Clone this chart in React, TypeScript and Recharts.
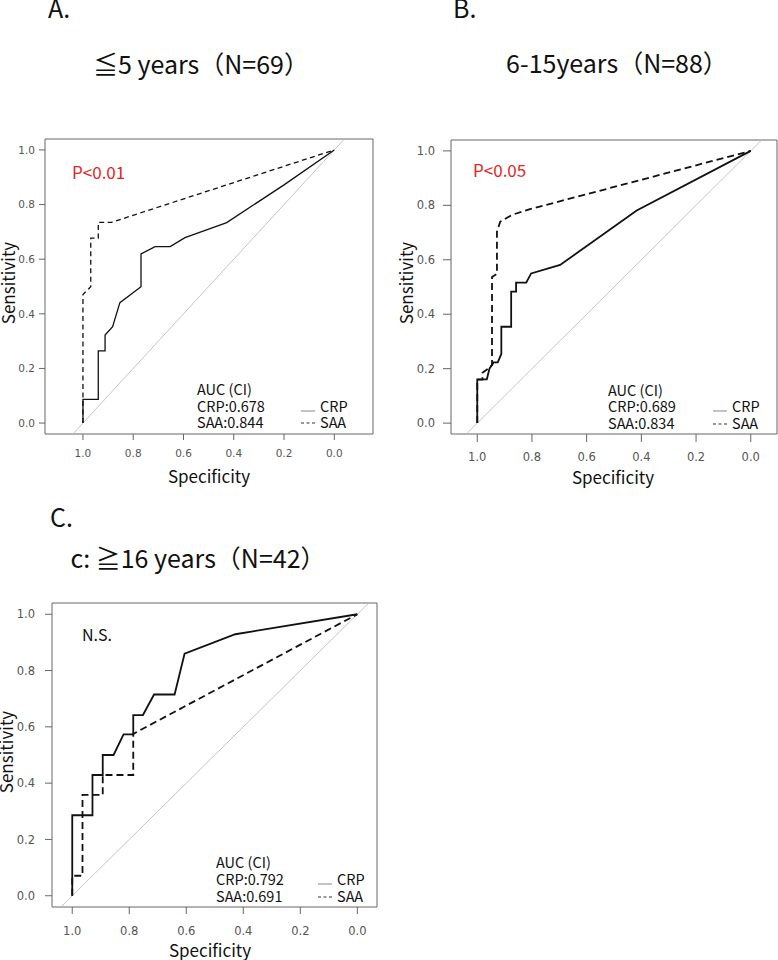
import React from 'react';
import { LineChart, Line, XAxis, YAxis, ReferenceLine, ReferenceArea } from 'recharts';

// ROC points as [specificity, sensitivity]
const crpA: [number, number][] = [
  [1, 0], [1, 0.087], [0.939, 0.087], [0.939, 0.264], [0.912, 0.264], [0.912, 0.322],
  [0.882, 0.353], [0.853, 0.441], [0.769, 0.499], [0.769, 0.619], [0.713, 0.646],
  [0.653, 0.646], [0.594, 0.679], [0.428, 0.734], [0.2, 0.872], [0, 1],
];
const saaA: [number, number][] = [
  [1, 0], [1, 0.471], [0.969, 0.499], [0.969, 0.677], [0.939, 0.677], [0.939, 0.735],
  [0.886, 0.735], [0, 1],
];
const crpB: [number, number][] = [
  [1, 0], [1, 0.161], [0.965, 0.161], [0.955, 0.201], [0.94, 0.223], [0.925, 0.223],
  [0.912, 0.254], [0.912, 0.354], [0.876, 0.354], [0.876, 0.483], [0.858, 0.483],
  [0.858, 0.516], [0.821, 0.516], [0.803, 0.55], [0.697, 0.581], [0.417, 0.781], [0, 1],
];
const saaB: [number, number][] = [
  [1, 0], [1, 0.16], [0.981, 0.16], [0.981, 0.185], [0.96, 0.2], [0.946, 0.213],
  [0.946, 0.537], [0.928, 0.548], [0.928, 0.703], [0.916, 0.74], [0.873, 0.765],
  [0.807, 0.786], [0, 1],
];
const crpC: [number, number][] = [
  [1, 0], [1, 0.286], [0.929, 0.286], [0.929, 0.429], [0.893, 0.429], [0.893, 0.5],
  [0.855, 0.5], [0.82, 0.573], [0.786, 0.573], [0.786, 0.642], [0.752, 0.642],
  [0.713, 0.715], [0.641, 0.715], [0.606, 0.86], [0.428, 0.929], [0, 1],
];
const saaC: [number, number][] = [
  [1, 0], [1, 0.071], [0.964, 0.071], [0.964, 0.358], [0.893, 0.358], [0.893, 0.429],
  [0.786, 0.429], [0.786, 0.575], [0, 1],
];

const specTicks = [1, 0.8, 0.6, 0.4, 0.2, 0];
const sensTicks = [0, 0.2, 0.4, 0.6, 0.8, 1];

const toPts = (a: [number, number][]) => a.map(([spec, sens]) => ({ spec, sens }));

const calibri = '"Noto Sans CJK JP", "Noto Sans", sans-serif';

type Geo = {
  boxL: number; boxT: number; boxR: number; boxB: number;
  xMin: number; xMax: number;
  tick: number; xMargin: number; yMargin: number; font: number;
  lw: number; dash: string;
};

function RocPanel({ g, crp, saa }: { g: Geo; crp: [number, number][]; saa: [number, number][] }) {
  const yw = 45;
  const xh = 34;
  const left = g.boxL - yw;
  const top = g.boxT - 8;
  const width = g.boxR - left + 1;
  const height = g.boxB - top + xh;
  const tickStyle = { fill: '#555', fontSize: g.font, fontFamily: '"DejaVu Sans", sans-serif' };
  return (
    <div style={{ position: 'absolute', left, top }}>
      <LineChart width={width} height={height} margin={{ top: 8, right: 1, bottom: 0, left: 0 }}>
        <XAxis
          type="number" dataKey="spec" domain={[g.xMin, g.xMax]} reversed allowDataOverflow
          ticks={specTicks} interval={0} axisLine={false} tickLine={{ stroke: '#666' }}
          tickSize={g.tick} tickMargin={g.xMargin} height={xh} tick={tickStyle}
          tickFormatter={(v: number) => v.toFixed(1)}
        />
        <YAxis
          type="number" domain={[-0.04, 1.04]} allowDataOverflow ticks={sensTicks} interval={0}
          axisLine={false} tickLine={{ stroke: '#666' }} tickSize={g.tick} tickMargin={g.yMargin}
          width={yw} tick={tickStyle} tickFormatter={(v: number) => v.toFixed(1)}
        />
        <ReferenceArea x1={g.xMin} x2={g.xMax} y1={-0.04} y2={1.04} fill="none" stroke="#666" strokeWidth={1} />
        <ReferenceLine segment={[{ x: 1.039, y: -0.039 }, { x: -0.039, y: 1.039 }]} stroke="#c4c4c4" strokeWidth={1} />
        <Line data={toPts(crp)} dataKey="sens" type="linear" stroke="#111" strokeWidth={g.lw} dot={false} isAnimationActive={false} />
        <Line data={toPts(saa)} dataKey="sens" type="linear" stroke="#111" strokeWidth={g.lw} strokeDasharray={g.dash} dot={false} isAnimationActive={false} />
      </LineChart>
    </div>
  );
}

const geoA: Geo = { boxL: 45, boxT: 139, boxR: 373, boxB: 434, xMin: -0.154, xMax: 1.151, tick: 6, xMargin: 10, yMargin: 4, font: 10.5, lw: 1.3, dash: '5 3.5' };
const geoB: Geo = { boxL: 451, boxT: 140, boxR: 777, boxB: 434, xMin: -0.096, xMax: 1.096, tick: 8, xMargin: 11, yMargin: 8, font: 11.5, lw: 1.8, dash: '7 4' };
const geoC: Geo = { boxL: 52, boxT: 603, boxR: 377, boxB: 907, xMin: -0.069, xMax: 1.071, tick: 7, xMargin: 13, yMargin: 10, font: 11.5, lw: 1.8, dash: '7 4' };

function Legend({ x, y1, y2 }: { x: number; y1: number; y2: number }) {
  return (
    <g>
      <line x1={x} x2={x + 14} y1={y1 - 1} y2={y1 - 1} stroke="#888" strokeWidth={1} />
      <line x1={x} x2={x + 14} y1={y2 - 5} y2={y2 - 5} stroke="#333" strokeWidth={1} strokeDasharray="3 2.5" />
      <text x={x + 19} y={y1} fontSize={14.5}>CRP</text>
      <text x={x + 19} y={y2} fontSize={14.5}>SAA</text>
    </g>
  );
}

export default function App() {
  return (
    <div style={{ position: 'absolute', left: 0, top: 0, width: 778, height: 960, background: '#fff', overflow: 'hidden' }}>
      <RocPanel g={geoA} crp={crpA} saa={saaA} />
      <RocPanel g={geoB} crp={crpB} saa={saaB} />
      <RocPanel g={geoC} crp={crpC} saa={saaC} />
      <svg width={778} height={960} style={{ position: 'absolute', left: 0, top: 0, pointerEvents: 'none' }} fontFamily={calibri} fill="#111">
        {/* panel A */}
        <text x={48} y={18} fontSize={25}>A.</text>
        <text x={201} y={74} fontSize={25} textAnchor="middle">≦5 years（N=69）</text>
        <text x={72} y={179} fontSize={17} fill="#e4261f">P&lt;0.01</text>
        <text transform="translate(15,283) rotate(-90)" fontSize={17} textAnchor="middle">Sensitivity</text>
        <text x={209} y={483} fontSize={17} textAnchor="middle">Specificity</text>
        <text x={197} y={395} fontSize={14.5}>AUC (CI)</text>
        <text x={197} y={412} fontSize={14.5}>CRP:0.678</text>
        <text x={197} y={428} fontSize={14.5}>SAA:0.844</text>
        <Legend x={301} y1={412} y2={428} />

        {/* panel B */}
        <text x={453} y={18} fontSize={25}>B.</text>
        <text x={617} y={73} fontSize={25} textAnchor="middle">6-15years（N=88）</text>
        <text x={473} y={177} fontSize={17} fill="#e4261f">P&lt;0.05</text>
        <text transform="translate(413,283) rotate(-90)" fontSize={17} textAnchor="middle">Sensitivity</text>
        <text x={613} y={484} fontSize={17} textAnchor="middle">Specificity</text>
        <text x={608} y={396} fontSize={14.5}>AUC (CI)</text>
        <text x={608} y={412} fontSize={14.5}>CRP:0.689</text>
        <text x={608} y={429} fontSize={14.5}>SAA:0.834</text>
        <Legend x={713} y1={412} y2={429} />

        {/* panel C */}
        <text x={50} y={527} fontSize={25}>C.</text>
        <text x={198} y={568} fontSize={25} textAnchor="middle">c: ≧16 years（N=42）</text>
        <text x={82} y={641} fontSize={16}>N.S.</text>
        <text transform="translate(13,752) rotate(-90)" fontSize={17} textAnchor="middle">Sensitivity</text>
        <text x={210} y={957} fontSize={17} textAnchor="middle">Specificity</text>
        <text x={216} y={868} fontSize={14.5}>AUC (CI)</text>
        <text x={216} y={885} fontSize={14.5}>CRP:0.792</text>
        <text x={216} y={902} fontSize={14.5}>SAA:0.691</text>
        <Legend x={318} y1={885} y2={902} />
      </svg>
    </div>
  );
}
